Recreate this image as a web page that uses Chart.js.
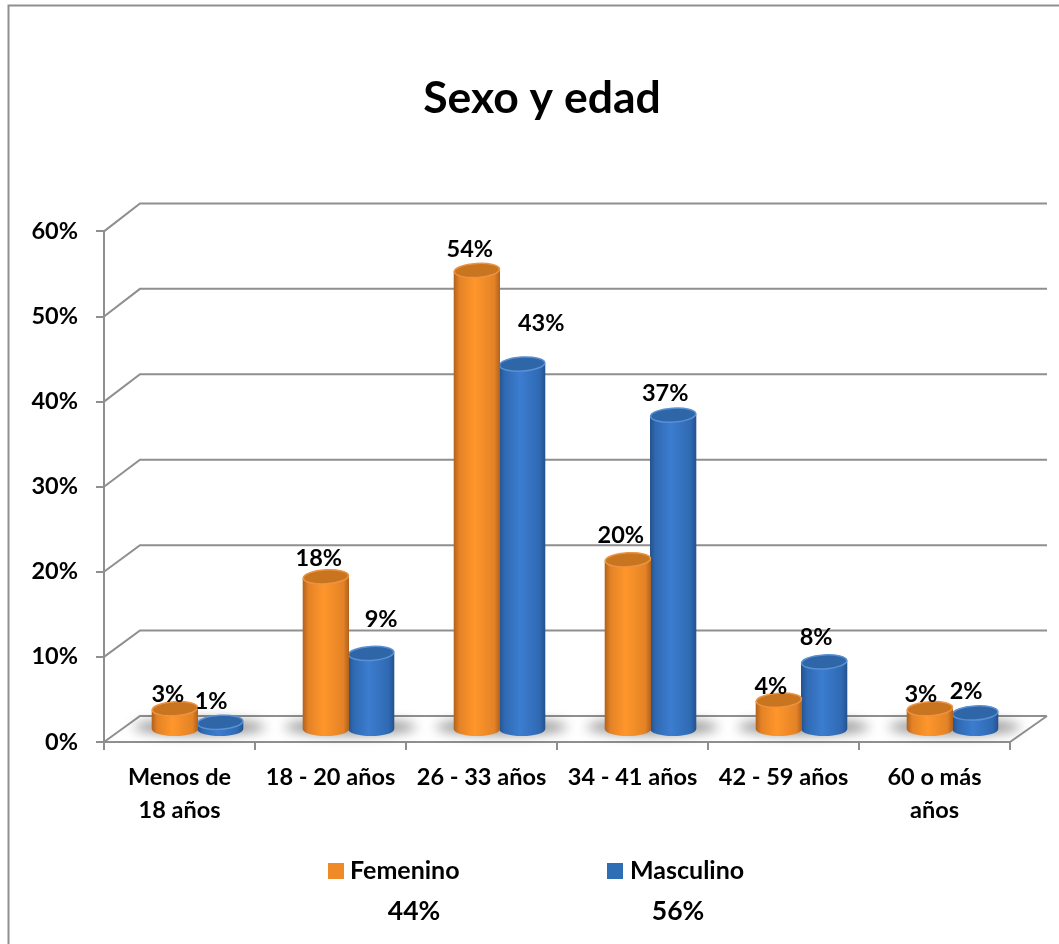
<!DOCTYPE html>
<html lang="es">
<head>
<meta charset="utf-8">
<title>Sexo y edad</title>
<style>
  html, body { margin: 0; padding: 0; background: #fff; overflow: hidden; }
  #wrap { position: absolute; left: 0; top: 0; width: 1059px; height: 944px; }
</style>
<script src="https://cdn.jsdelivr.net/npm/chart.js@4/dist/chart.umd.min.js"></script>
</head>
<body>
<div id="wrap"><canvas id="sexoEdadChart" width="1059" height="944"></canvas></div>
<script>
// Data
const categories = [['Menos de', '18 años'], '18 - 20 años', '26 - 33 años', '34 - 41 años', '42 - 59 años', ['60 o más', 'años']];
const femenino = [2.5, 18, 54, 20, 3.5, 2.5];
const masculino = [0.9, 9, 43, 37, 8, 2];
const seriesNames = ['Femenino', 'Masculino'];
const seriesShares = ['44%', '56%'];
const yTicksMax = 60;

const FONT = 'Lato, Carlito, sans-serif';
const LINE_GREY = '#8f8f8f';

// Fake 3D: how far the back wall and the bar row sit from the front axes
const wallDx = 36;
const barDx = 18;
const barDy = 12;

const palette = [
  { edge: '#b0611c', shade: '#e38226', mid: '#ff962b', top: '#c9741f', rim: '#ec9443', swatch: '#f08a26' },
  { edge: '#24528c', shade: '#2f69b2', mid: '#3c7dd0', top: '#2f66a8', rim: '#5a90d4', swatch: '#2f6db5' }
];

// Label nudges from the top of each bar, [dx, dy] per series and category
const labelNudge = [
  [[-7, -14], [-7, -18], [-7, -21], [-7, -24], [-8, -14], [-9, -14]],
  [[-9, -21], [10, -34], [19, -41], [-8, -22], [-8, -24], [-9, -22]]
];

function wallLift(value) {
  return 26 + value / 30;
}

// The title sits over the plot, not over the whole canvas
const titleShiftPlugin = {
  id: 'titleShift',
  afterLayout(chart) {
    chart.titleBlock.left = 74;
  }
};

// Back wall lines, side diagonals and floor
const wallPlugin = {
  id: 'wall',
  beforeDatasetsDraw(chart) {
    const { ctx, chartArea, scales } = chart;
    ctx.save();
    ctx.strokeStyle = LINE_GREY;
    ctx.lineWidth = 2;
    scales.y.ticks.forEach(t => {
      const y = scales.y.getPixelForValue(t.value);
      const by = y - wallLift(t.value);
      ctx.beginPath();
      ctx.moveTo(chartArea.left, y);
      ctx.lineTo(chartArea.left + wallDx, by);
      ctx.lineTo(chartArea.right + wallDx + 1, by);
      ctx.stroke();
    });
    const y0 = scales.y.getPixelForValue(0);
    ctx.beginPath();
    ctx.moveTo(chartArea.right, y0);
    ctx.lineTo(chartArea.right + wallDx + 1, y0 - wallLift(0));
    ctx.stroke();
    ctx.restore();

    // soft shadow on the floor under each pair
    ctx.save();
    ctx.filter = 'blur(6px)';
    ctx.fillStyle = 'rgba(50,50,50,0.5)';
    categories.forEach((c, i) => {
      const cx = scales.x.getPixelForValue(i) + barDx;
      ctx.beginPath();
      ctx.ellipse(cx + 2, y0 - barDy - 3, 66, 8, 0, 0, Math.PI * 2);
      ctx.fill();
    });
    ctx.restore();
  }
};

function drawCylinder(ctx, bar, colors) {
  const rx = bar.width / 2 + 0.5;
  const ry = 7;
  const cx = bar.x + barDx;
  const top = bar.y - barDy;
  const bottom = bar.base - barDy;
  const tilt = -0.06;

  const g = ctx.createLinearGradient(cx - rx, 0, cx + rx, 0);
  g.addColorStop(0, colors.edge);
  g.addColorStop(0.12, colors.shade);
  g.addColorStop(0.45, colors.mid);
  g.addColorStop(0.88, colors.shade);
  g.addColorStop(1, colors.edge);

  ctx.save();
  ctx.beginPath();
  ctx.moveTo(cx - rx, top);
  ctx.lineTo(cx - rx, bottom);
  ctx.ellipse(cx, bottom, rx, ry, 0, Math.PI, 0, true);
  ctx.lineTo(cx + rx, top);
  ctx.ellipse(cx, top, rx, ry, tilt, 0, Math.PI, true);
  ctx.closePath();
  ctx.fillStyle = g;
  ctx.fill();

  ctx.beginPath();
  ctx.ellipse(cx, top, rx - 0.5, ry, tilt, 0, Math.PI * 2);
  ctx.fillStyle = colors.top;
  ctx.fill();
  ctx.strokeStyle = colors.rim;
  ctx.lineWidth = 1.5;
  ctx.stroke();
  ctx.restore();
}

// Cylinders instead of flat bars, floating 3D offset from the scales
const cylinderPlugin = {
  id: 'cylinders',
  beforeDatasetDraw(chart, args) {
    const meta = chart.getDatasetMeta(args.index);
    meta.data.forEach(bar => drawCylinder(chart.ctx, bar, palette[args.index]));
    return false; // skip the flat bars
  }
};

const valueLabelPlugin = {
  id: 'valueLabels',
  afterDatasetsDraw(chart) {
    const { ctx } = chart;
    ctx.save();
    ctx.font = 'bold 23.5px ' + FONT;
    ctx.fillStyle = '#000';
    ctx.textAlign = 'center';
    ctx.textBaseline = 'middle';
    chart.data.datasets.forEach((ds, d) => {
      chart.getDatasetMeta(d).data.forEach((bar, i) => {
        const n = labelNudge[d][i];
        ctx.fillText(Math.round(ds.data[i]) + '%', bar.x + barDx + n[0], bar.y - barDy + n[1]);
      });
    });
    ctx.restore();
  }
};

// Legend with the share of each series under its name
const legendPlugin = {
  id: 'sharedLegend',
  afterDraw(chart) {
    const { ctx } = chart;
    const boxX = [328, 607];
    const textX = [350, 630];
    const shareX = [414, 678];
    ctx.save();
    ctx.fillStyle = '#000';
    ctx.textBaseline = 'middle';
    seriesNames.forEach((name, i) => {
      ctx.fillStyle = palette[i].swatch;
      ctx.fillRect(boxX[i], 863, 16, 16);
      ctx.fillStyle = '#000';
      ctx.textAlign = 'left';
      ctx.font = 'bold 25px ' + FONT;
      ctx.fillText(name, textX[i], 871);
      ctx.textAlign = 'center';
      ctx.font = 'bold 26.5px ' + FONT;
      ctx.fillText(seriesShares[i], shareX[i], 911);
    });
    ctx.restore();
  }
};

// Outer frame, it runs off the right and bottom of the shot
const framePlugin = {
  id: 'frame',
  beforeDraw(chart) {
    const { ctx } = chart;
    ctx.save();
    ctx.strokeStyle = LINE_GREY;
    ctx.lineWidth = 2;
    ctx.beginPath();
    ctx.moveTo(8.5, 944);
    ctx.lineTo(8.5, 5.5);
    ctx.lineTo(1059, 5.5);
    ctx.stroke();
    ctx.restore();
  }
};

new Chart(document.getElementById('sexoEdadChart'), {
  type: 'bar',
  data: {
    labels: categories,
    datasets: [
      { label: seriesNames[0], data: femenino, backgroundColor: palette[0].swatch },
      { label: seriesNames[1], data: masculino, backgroundColor: palette[1].swatch }
    ]
  },
  plugins: [titleShiftPlugin, framePlugin, wallPlugin, cylinderPlugin, valueLabelPlugin, legendPlugin],
  options: {
    responsive: false,
    animation: false,
    layout: { padding: { left: 0, right: 49, top: 0, bottom: 102 } },
    datasets: { bar: { barPercentage: 1, categoryPercentage: 0.6 } },
    plugins: {
      legend: { display: false },
      tooltip: { enabled: false },
      title: {
        display: true,
        text: 'Sexo y edad',
        color: '#000',
        font: { family: FONT, size: 44.5, weight: 'bold' },
        padding: { top: 72, bottom: 106 }
      }
    },
    scales: {
      x: {
        afterFit(axis) { axis.height = 100; },
        border: { display: true, color: LINE_GREY, width: 2 },
        grid: { drawOnChartArea: false, drawTicks: true, tickLength: 8, color: LINE_GREY, lineWidth: 2 },
        ticks: {
          color: '#000',
          maxRotation: 0,
          autoSkip: false,
          padding: 11,
          font: { family: FONT, size: 23.5, weight: 'bold', lineHeight: 1.4 }
        }
      },
      y: {
        min: 0,
        max: yTicksMax,
        afterFit(axis) { axis.width = 104; },
        border: { display: true, color: LINE_GREY, width: 2 },
        grid: { drawOnChartArea: false, drawTicks: true, tickLength: 8, color: LINE_GREY, lineWidth: 2 },
        ticks: {
          stepSize: 10,
          color: '#000',
          padding: 18,
          callback: v => v + '%',
          font: { family: FONT, size: 23.5, weight: 'bold' }
        }
      }
    }
  }
});
</script>
</body>
</html>
